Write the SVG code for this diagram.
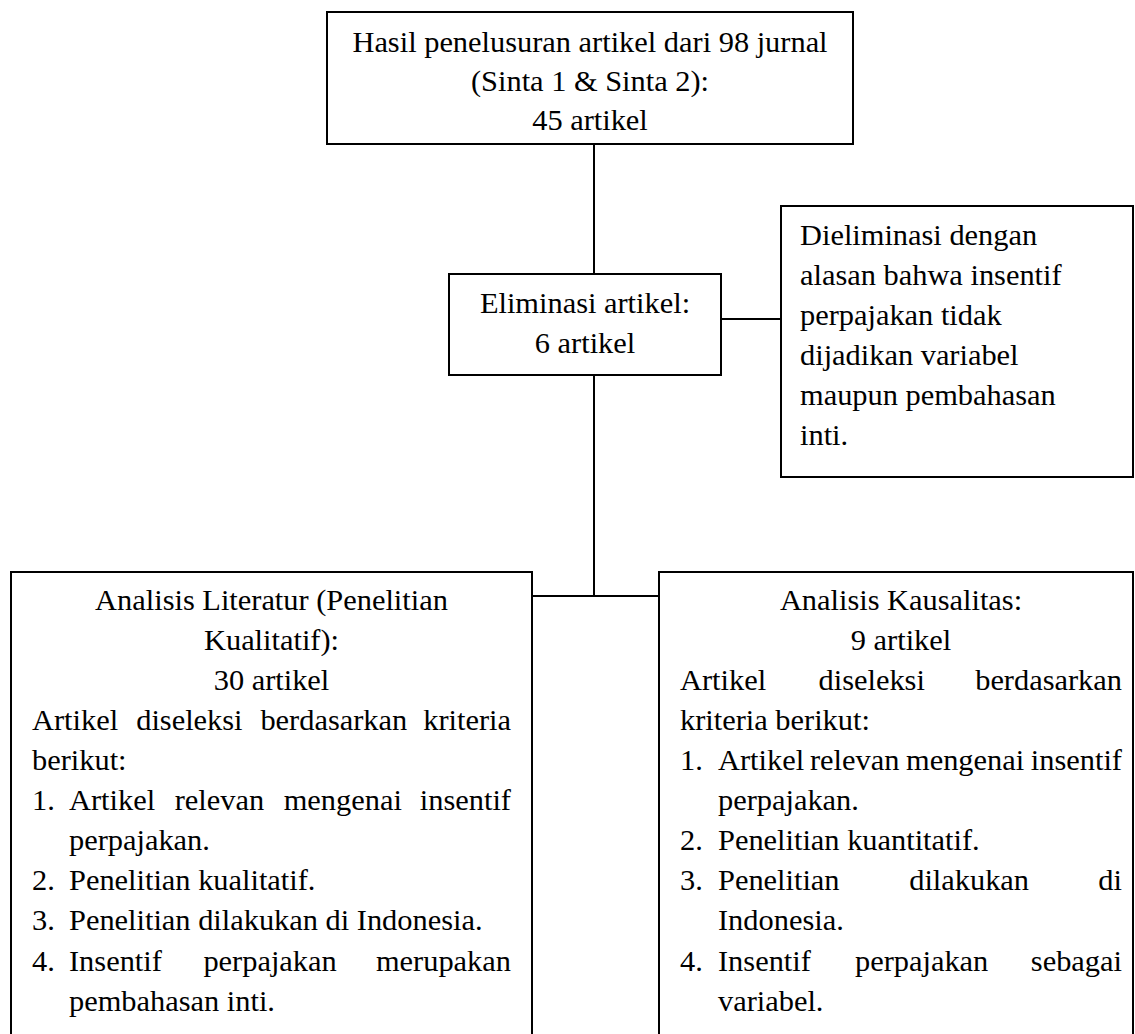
<svg xmlns="http://www.w3.org/2000/svg" width="1135" height="1034" viewBox="0 0 1135 1034" font-family="'Liberation Serif', 'Times New Roman', serif" font-size="30.4">
<style>
.box{fill:#fff;stroke:#000;stroke-width:2}
.ln{stroke:#000;stroke-width:2;fill:none}
.c{text-anchor:middle}
.e{text-anchor:end}
</style>
<rect width="1135" height="1034" fill="#fff"/>
<g id="connectors">
<line class="ln" x1="594" y1="144" x2="594" y2="274"/>
<line class="ln" x1="594" y1="375" x2="594" y2="596"/>
<line class="ln" x1="721" y1="319" x2="781" y2="319"/>
<line class="ln" x1="532" y1="596" x2="659" y2="596"/>
</g>
<g id="node-hasil">
<rect class="box" x="327" y="12" width="526" height="132"/>
<text class="c" x="590" y="52">Hasil penelusuran artikel dari 98 jurnal</text>
<text class="c" x="590" y="91">(Sinta 1 &amp; Sinta 2):</text>
<text class="c" x="590" y="130">45 artikel</text>
</g>
<g id="node-eliminasi">
<rect class="box" x="449" y="274" width="272" height="101"/>
<text class="c" x="585" y="313">Eliminasi artikel:</text>
<text class="c" x="585" y="353">6 artikel</text>
</g>
<g id="node-alasan">
<rect class="box" x="781" y="206" width="352" height="271"/>
<text x="800" y="245">Dieliminasi dengan</text>
<text x="800" y="285">alasan bahwa insentif</text>
<text x="800" y="325">perpajakan tidak</text>
<text x="800" y="365">dijadikan variabel</text>
<text x="800" y="405">maupun pembahasan</text>
<text x="800" y="445">inti.</text>
</g>
<g id="node-literatur">
<rect class="box" x="11" y="572" width="521" height="480"/>
<text class="c" x="271.5" y="610">Analisis Literatur (Penelitian</text>
<text class="c" x="271.5" y="650">Kualitatif):</text>
<text class="c" x="271.5" y="690">30 artikel</text>
<text x="32" y="730">Artikel</text>
<text x="136.2" y="730">diseleksi</text>
<text x="260.4" y="730">berdasarkan</text>
<text class="e" x="511" y="730">kriteria</text>
<text x="32" y="770">berikut:</text>
<text x="32" y="810">1.</text>
<text x="69" y="810">Artikel</text>
<text x="174.7" y="810">relevan</text>
<text x="283.7" y="810">mengenai</text>
<text class="e" x="511" y="810">insentif</text>
<text x="69" y="850">perpajakan.</text>
<text x="32" y="890">2.</text>
<text x="69" y="890">Penelitian kualitatif.</text>
<text x="32" y="930">3.</text>
<text x="69" y="930">Penelitian dilakukan di Indonesia.</text>
<text x="32" y="971">4.</text>
<text x="69" y="971">Insentif</text>
<text x="203.4" y="971">perpajakan</text>
<text class="e" x="511" y="971">merupakan</text>
<text x="69" y="1011">pembahasan inti.</text>
</g>
<g id="node-kausalitas">
<rect class="box" x="659" y="572" width="474" height="480"/>
<text class="c" x="901" y="610">Analisis Kausalitas:</text>
<text class="c" x="901" y="650">9 artikel</text>
<text x="680" y="690">Artikel</text>
<text x="818.5" y="690">diseleksi</text>
<text class="e" x="1122" y="690">berdasarkan</text>
<text x="680" y="730">kriteria berikut:</text>
<text x="680" y="770">1.</text>
<text x="718" y="770">Artikel</text>
<text x="810" y="770">relevan</text>
<text x="906" y="770">mengenai</text>
<text class="e" x="1122" y="770">insentif</text>
<text x="718" y="810">perpajakan.</text>
<text x="680" y="850">2.</text>
<text x="718" y="850">Penelitian kuantitatif.</text>
<text x="680" y="890">3.</text>
<text x="718" y="890">Penelitian</text>
<text x="909.2" y="890">dilakukan</text>
<text class="e" x="1122" y="890">di</text>
<text x="718" y="930">Indonesia.</text>
<text x="680" y="971">4.</text>
<text x="718" y="971">Insentif</text>
<text x="855" y="971">perpajakan</text>
<text class="e" x="1122" y="971">sebagai</text>
<text x="718" y="1011">variabel.</text>
</g>
</svg>
